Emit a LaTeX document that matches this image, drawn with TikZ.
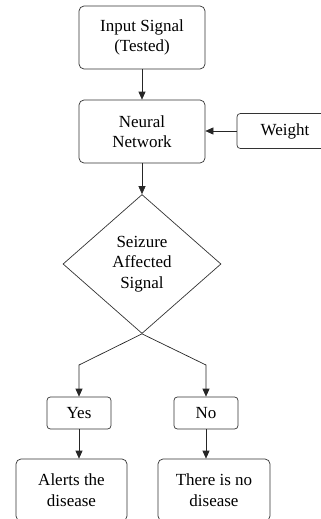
\documentclass[tikz,border=0pt]{standalone}
\usepackage{fontspec}
\setmainfont{Liberation Serif}
\usetikzlibrary{shapes.geometric, arrows.meta, positioning}

\begin{document}
\begin{tikzpicture}[x=0.3mm, y=-0.3mm,
    font=\fontsize{14.5}{17.5}\selectfont,
    proc/.style={rectangle, rounded corners=1.5mm, draw=black!80, line width=0.6pt, minimum width=37.8mm, minimum height=18.9mm, align=center, inner sep=0pt},
    small/.style={rectangle, rounded corners=1mm, draw=black!80, line width=0.6pt, minimum width=19.2mm, minimum height=9.6mm, align=center, inner sep=0pt},
    dec/.style={diamond, draw=black!80, line width=0.6pt, minimum width=47.4mm, minimum height=41.7mm, align=center, inner sep=0pt},
    arrow/.style={-{Triangle[length=2.4mm, width=2.1mm]}, draw=black!85, line width=0.6pt}
]
    \useasboundingbox (0,0) rectangle (321,519);
    \clip (0,0) rectangle (321,519);

    \node[proc] (input) at (142,37.5) {Input Signal\\(Tested)};
    \node[proc] (nn) at (142,131.5) {Neural\\Network};
    \node[small, minimum width=28.8mm, minimum height=10.5mm] (weight) at (285,131) {Weight};
    \node[dec] (seizure) at (142,264) {Seizure\\Affected\\Signal};

    \node[small] (yes) at (79,413) {Yes};
    \node[small] (no) at (206,413) {No};

    \node[proc, minimum width=33.3mm, minimum height=18.6mm] (alert) at (71.5,490) {Alerts the\\disease};
    \node[proc, minimum width=33.6mm, minimum height=18.6mm] (nodis) at (214,490) {There is no\\disease};

    \draw[arrow] (input) -- (nn);
    \draw[arrow] (weight.west) -- (nn.east |- weight.west);
    \draw[arrow] (nn) -- (seizure);
    \draw[arrow] (seizure.south) -- (yes.north |- 0,365) -- (yes.north);
    \draw[arrow] (seizure.south) -- (no.north |- 0,365) -- (no.north);
    \draw[arrow] (yes.south) -- (yes.south |- alert.north);
    \draw[arrow] (no.south) -- (no.south |- nodis.north);
\end{tikzpicture}
\end{document}
